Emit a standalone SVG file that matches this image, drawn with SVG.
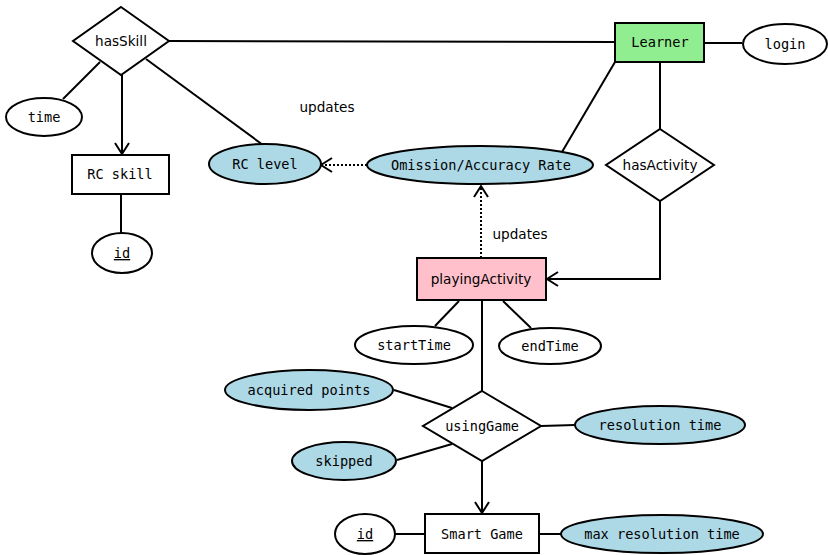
<svg xmlns="http://www.w3.org/2000/svg" width="828" height="555" viewBox="0 0 828 555">
<style>
.n{stroke:#000;stroke-width:2}
.w{fill:#fff}.b{fill:#ADD8E6}.g{fill:#90EE90}.p{fill:#FFC0CB}
.m{font-family:"DejaVu Sans Mono",monospace;font-size:13.6px;fill:#000;text-anchor:middle}
.s{font-family:"DejaVu Sans",sans-serif;font-size:13.6px;fill:#000;text-anchor:middle}
.c line,.c polyline{stroke:#000;stroke-width:2;fill:none}
.c .d{stroke-dasharray:2,2}
</style>
<defs>
<marker id="a" markerUnits="userSpaceOnUse" markerWidth="14" markerHeight="16" viewBox="0 0 14 16" refX="12" refY="8" orient="auto">
<path d="M1,1 L12,8 L1,15" fill="none" stroke="#000" stroke-width="2"/>
</marker>
</defs>
<g class="c" id="connectors">
<line x1="169" y1="41" x2="615" y2="42"/>
<line x1="704" y1="43" x2="742" y2="43"/>
<line x1="660" y1="62" x2="660" y2="129"/>
<line x1="615" y1="62" x2="562" y2="152"/>
<line x1="100" y1="62" x2="63" y2="99"/>
<line x1="122" y1="75" x2="122" y2="154" marker-end="url(#a)"/>
<line x1="146" y1="59" x2="263" y2="145"/>
<line x1="121" y1="194" x2="121" y2="233"/>
<line class="d" x1="367" y1="165" x2="321" y2="165" marker-end="url(#a)"/>
<line class="d" x1="481" y1="258" x2="481" y2="186" marker-end="url(#a)"/>
<polyline points="660,201 660,279 547,279" marker-end="url(#a)"/>
<line x1="459" y1="301" x2="435" y2="326"/>
<line x1="503" y1="301" x2="531" y2="328"/>
<line x1="482" y1="300" x2="482" y2="391"/>
<line x1="394" y1="390" x2="452" y2="408"/>
<line x1="397" y1="460" x2="452" y2="444"/>
<line x1="541" y1="426" x2="575" y2="425"/>
<line x1="482" y1="461" x2="482" y2="513" marker-end="url(#a)"/>
<line x1="395" y1="534" x2="425" y2="534"/>
<line x1="539" y1="534" x2="561" y2="534"/>
</g>
<g id="hasSkill"><polygon class="n w" points="121,7 169,41 121,75 73,41"/><text class="s" x="121" y="46">hasSkill</text></g>
<g id="Learner"><rect class="n g" x="615" y="23" width="89" height="39"/><text class="m" x="660" y="47">Learner</text></g>
<g id="login"><ellipse class="n w" cx="785" cy="44" rx="42" ry="20"/><text class="m" x="785" y="49">login</text></g>
<g id="time"><ellipse class="n w" cx="44" cy="117" rx="38" ry="19"/><text class="m" x="44" y="122">time</text></g>
<text class="s" x="327" y="112">updates</text>
<g id="RCskill"><rect class="n w" x="72" y="155" width="97" height="39"/><text class="m" x="120" y="179">RC skill</text></g>
<g id="RClevel"><ellipse class="n b" cx="265" cy="164" rx="56" ry="20"/><text class="m" x="265" y="169">RC level</text></g>
<g id="OmissionRate"><ellipse class="n b" cx="480" cy="165" rx="113" ry="19"/><text class="m" x="481" y="170">Omission/Accuracy Rate</text></g>
<g id="hasActivity"><polygon class="n w" points="660,129 714,165 660,201 606,165"/><text class="s" x="660" y="170">hasActivity</text></g>
<g id="idRC"><ellipse class="n w" cx="122" cy="253" rx="30" ry="20"/><text class="m" x="122" y="258" text-decoration="underline">id</text></g>
<text class="s" x="520" y="239">updates</text>
<g id="playingActivity"><rect class="n p" x="417" y="258" width="129" height="42"/><text class="s" x="481" y="284">playingActivity</text></g>
<g id="startTime"><ellipse class="n w" cx="414" cy="345" rx="59" ry="19"/><text class="m" x="414" y="350">startTime</text></g>
<g id="endTime"><ellipse class="n w" cx="550" cy="346" rx="51" ry="18"/><text class="m" x="550" y="351">endTime</text></g>
<g id="acquiredPoints"><ellipse class="n b" cx="309" cy="390" rx="84" ry="20"/><text class="m" x="309" y="395">acquired points</text></g>
<g id="usingGame"><polygon class="n w" points="482,391 541,426 482,461 423,426"/><text class="m" x="482" y="431">usingGame</text></g>
<g id="resolutionTime"><ellipse class="n b" cx="660" cy="425" rx="85" ry="19"/><text class="m" x="660" y="430">resolution time</text></g>
<g id="skipped"><ellipse class="n b" cx="344" cy="461" rx="52" ry="19"/><text class="m" x="344" y="466">skipped</text></g>
<g id="idSG"><ellipse class="n w" cx="365" cy="534" rx="30" ry="20"/><text class="m" x="365" y="539" text-decoration="underline">id</text></g>
<g id="SmartGame"><rect class="n w" x="425" y="514" width="114" height="39"/><text class="m" x="482" y="539">Smart Game</text></g>
<g id="maxResolutionTime"><ellipse class="n b" cx="662" cy="534" rx="101" ry="19"/><text class="m" x="662" y="539">max resolution time</text></g>
</svg>
